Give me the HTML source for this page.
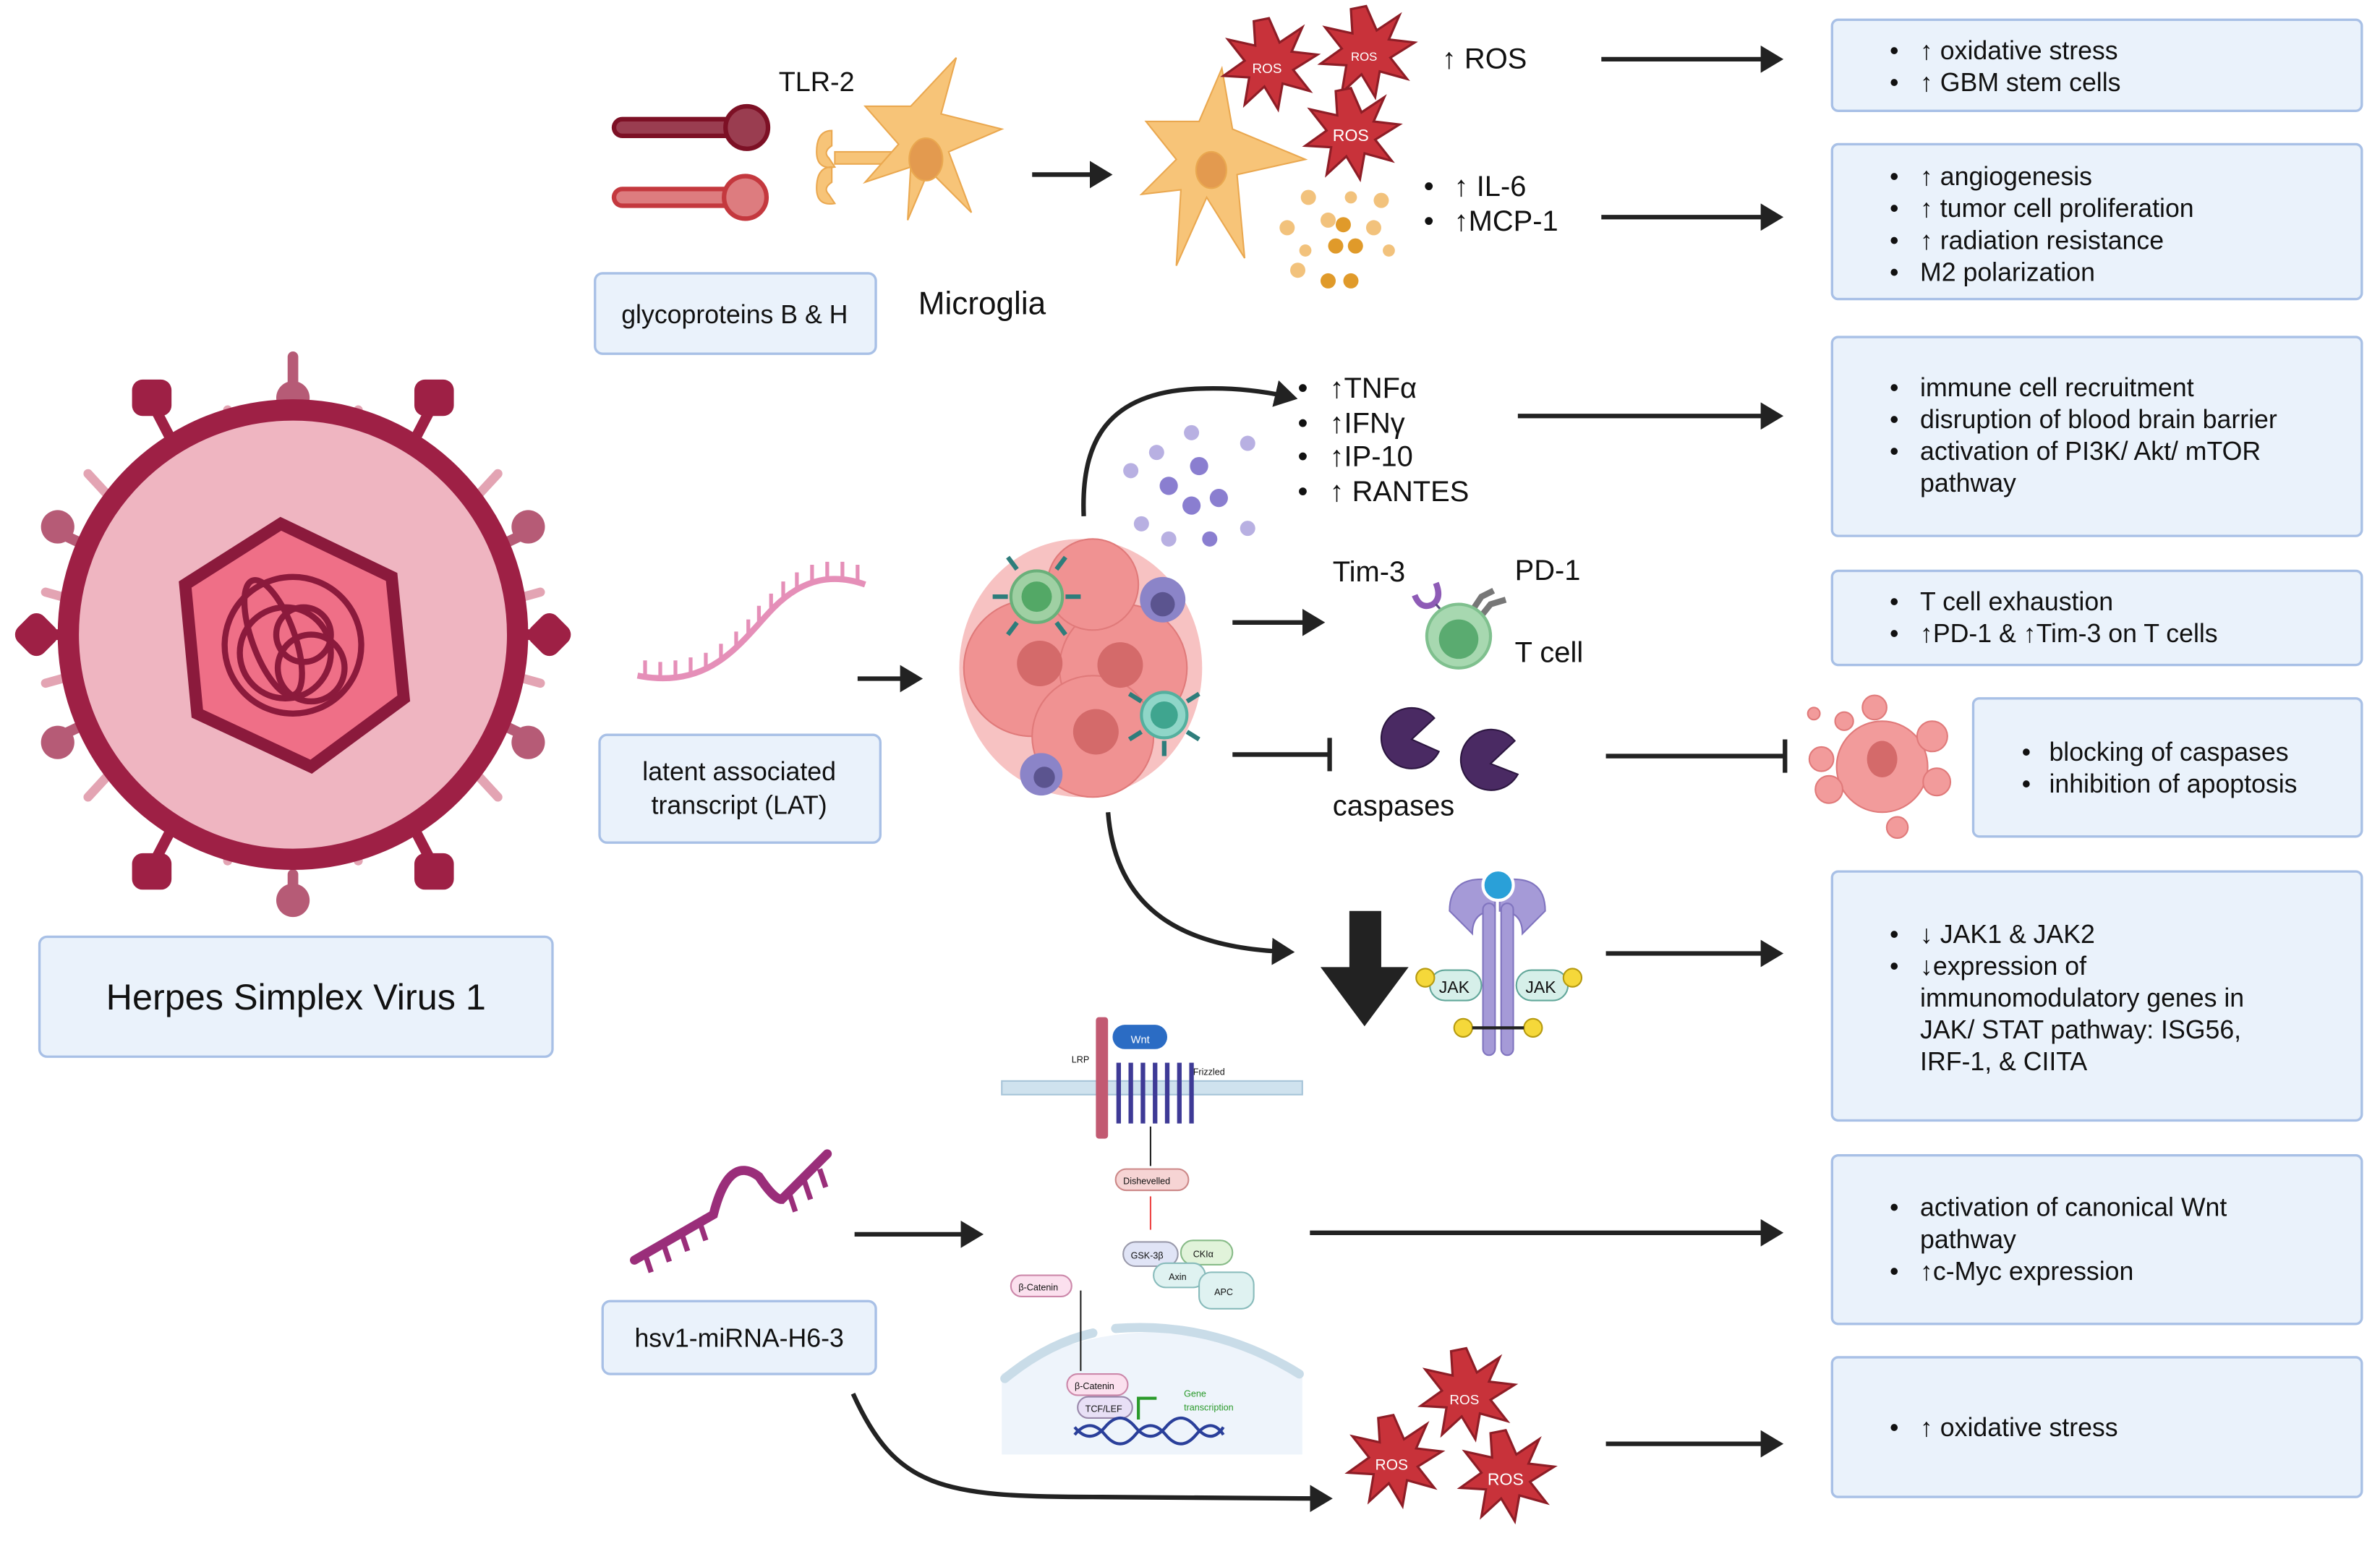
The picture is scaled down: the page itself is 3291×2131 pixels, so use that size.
<!DOCTYPE html>
<html><head><meta charset="utf-8"><style>
html,body{margin:0;padding:0;background:#fff;}
svg{display:block;}
text{font-family:"Liberation Sans",sans-serif;fill:#111;}
.bx{fill:#eaf2fb;stroke:#a8c0e6;stroke-width:1.6;}
.t{font-size:17px;}
.ar{stroke:#222;stroke-width:3;fill:none;}
</style></head><body>
<svg width="3291" height="2131" viewBox="0 0 1568 1015" preserveAspectRatio="none" xmlns="http://www.w3.org/2000/svg">
<defs>
<marker id="ah" markerWidth="6" markerHeight="6" refX="4" refY="3" orient="auto" markerUnits="strokeWidth"><path d="M0,0 L5,3 L0,6 Z" fill="#222"/></marker>
<g id="ros"><polygon points="0,-30 7,-14 22,-24 15,-8 32,-6 16,4 27,18 9,13 6,30 -3,15 -16,27 -13,9 -30,8 -16,-2 -27,-16 -9,-12 -10,-28 " fill="#c8323a" stroke="#8e1d26" stroke-width="1.5"/></g>
</defs>

<!-- Virus -->
<g>
 <g stroke="#b65b76" stroke-width="7" stroke-linecap="round">
  <line x1="193" y1="260" x2="193" y2="235"/><line x1="193" y1="576" x2="193" y2="600"/>
  <line x1="37" y1="350" x2="58" y2="360"/><line x1="349" y1="350" x2="328" y2="360"/>
  <line x1="37" y1="486" x2="58" y2="476"/><line x1="349" y1="486" x2="328" y2="476"/>
 </g>
 <g fill="#b65b76"><circle cx="193" cy="262" r="11"/><circle cx="193" cy="593" r="11"/><circle cx="38" cy="347" r="11"/><circle cx="348" cy="347" r="11"/><circle cx="38" cy="489" r="11"/><circle cx="348" cy="489" r="11"/></g>
 <g stroke="#e3a4b3" stroke-width="6" stroke-linecap="round">
  <line x1="155" y1="285" x2="150" y2="270"/><line x1="231" y1="285" x2="236" y2="270"/>
  <line x1="155" y1="552" x2="150" y2="567"/><line x1="231" y1="552" x2="236" y2="567"/>
  <line x1="70" y1="325" x2="58" y2="312"/><line x1="316" y1="325" x2="328" y2="312"/>
  <line x1="70" y1="512" x2="58" y2="525"/><line x1="316" y1="512" x2="328" y2="525"/>
  <line x1="48" y1="395" x2="30" y2="390"/><line x1="338" y1="395" x2="356" y2="390"/>
  <line x1="48" y1="445" x2="30" y2="450"/><line x1="338" y1="445" x2="356" y2="450"/>
 </g>
 <g stroke="#9e2045" stroke-width="7">
  <line x1="113" y1="290" x2="100" y2="265"/><line x1="273" y1="290" x2="286" y2="265"/>
  <line x1="113" y1="546" x2="100" y2="571"/><line x1="273" y1="546" x2="286" y2="571"/>
  <line x1="40" y1="418" x2="22" y2="418"/><line x1="346" y1="418" x2="364" y2="418"/>
 </g>
 <g fill="#9e2045"><rect x="87" y="250" width="26" height="24" rx="7"/><rect x="273" y="250" width="26" height="24" rx="7"/><rect x="87" y="562" width="26" height="24" rx="7"/><rect x="273" y="562" width="26" height="24" rx="7"/><rect x="12" y="406" width="24" height="24" rx="7" transform="rotate(45 24 418)"/><rect x="350" y="406" width="24" height="24" rx="7" transform="rotate(45 362 418)"/></g>
 <circle cx="193" cy="418" r="148" fill="#efb5c1" stroke="#9e2045" stroke-width="14"/>
 <polygon points="185,345 258,380 266,460 205,505 130,470 122,385" fill="#ef6f87" stroke="#8b1a3c" stroke-width="8"/>
 <g fill="none" stroke="#8b1a3c" stroke-width="4">
  <circle cx="193" cy="425" r="45"/><circle cx="188" cy="430" r="30"/><circle cx="200" cy="418" r="18"/><ellipse cx="180" cy="420" rx="14" ry="40" transform="rotate(-20 180 420)"/><circle cx="205" cy="440" r="22"/>
 </g>
</g>
<rect class="bx" x="26" y="617" width="338" height="79" rx="5"/>
<text x="195" y="665" text-anchor="middle" style="font-size:24px">Herpes Simplex Virus 1</text>

<!-- Glycoproteins -->
<g stroke-linecap="round">
 <line x1="410" y1="84" x2="478" y2="84" stroke="#7d1025" stroke-width="14"/><line x1="410" y1="84" x2="478" y2="84" stroke="#9a3d50" stroke-width="8"/>
 <circle cx="492" cy="84" r="14" fill="#9a3d50" stroke="#7d1025" stroke-width="3"/>
 <line x1="410" y1="130" x2="478" y2="130" stroke="#c4383e" stroke-width="14"/><line x1="410" y1="130" x2="478" y2="130" stroke="#dd7c7f" stroke-width="8"/>
 <circle cx="491" cy="130" r="14" fill="#dd7c7f" stroke="#c4383e" stroke-width="3"/>
</g>
<text x="513" y="60" style="font-size:18px">TLR-2</text>
<g fill="#f7c478" stroke="#eaa850" stroke-width="1">
 <path d="M548,86 q-10,0 -10,14 q0,12 12,10 l-4,-6 q-4,-4 2,-8z M548,110 q-10,0 -10,14 q0,12 12,10 l-4,-6 q-4,-4 2,-8z"/>
 <rect x="550" y="100" width="45" height="8"/>
 <path d="M600,70 L630,38 L620,75 L660,85 L625,100 L640,140 L612,112 L598,145 L600,110 L570,120 L592,95 L570,70 Z"/>
 <ellipse cx="610" cy="105" rx="11" ry="14" fill="#e39a4f"/>
</g>
<rect class="bx" x="392" y="180" width="185" height="53" rx="5"/>
<text x="484" y="213" text-anchor="middle" class="t">glycoproteins B &amp; H</text>
<text x="605" y="207" style="font-size:21px">Microglia</text>
<line class="ar" x1="680" y1="115" x2="730" y2="115" marker-end="url(#ah)"/>
<g fill="#f7c478" stroke="#eaa850" stroke-width="1">
 <path d="M790,80 L805,45 L812,85 L860,105 L815,115 L820,170 L795,130 L775,175 L778,125 L752,128 L775,105 L755,80 Z"/>
 <ellipse cx="798" cy="112" rx="10" ry="12" fill="#e39a4f"/>
</g>
<use href="#ros" x="836" y="42"/><use href="#ros" x="900" y="34"/><use href="#ros" x="890" y="88"/>
<text x="825" y="48" style="fill:#fff;font-size:9px">ROS</text><text x="890" y="40" style="fill:#fff;font-size:8px">ROS</text><text x="878" y="93" style="fill:#fff;font-size:11px">ROS</text>
<g fill="#f2c27c"><circle cx="848" cy="150" r="5"/><circle cx="862" cy="130" r="5"/><circle cx="875" cy="145" r="5"/><circle cx="890" cy="130" r="4"/><circle cx="910" cy="132" r="5"/><circle cx="855" cy="178" r="5"/><circle cx="905" cy="150" r="5"/><circle cx="915" cy="165" r="4"/><circle cx="860" cy="165" r="4"/></g>
<g fill="#e09a2a"><circle cx="880" cy="162" r="5"/><circle cx="893" cy="162" r="5"/><circle cx="875" cy="185" r="5"/><circle cx="890" cy="185" r="5"/><circle cx="885" cy="148" r="5"/></g>
<g style="font-size:19px">
<text x="950" y="45">↑ ROS</text>
<text x="938" y="129">•</text><text x="958" y="129">↑ IL-6</text>
<text x="938" y="152">•</text><text x="958" y="152">↑MCP-1</text>
</g>
<line class="ar" x1="1055" y1="39" x2="1172" y2="39" marker-end="url(#ah)"/>
<line class="ar" x1="1055" y1="143" x2="1172" y2="143" marker-end="url(#ah)"/>

<!-- LAT -->
<path d="M420,445 C470,455 490,420 510,400 C530,380 550,378 570,385" fill="none" stroke="#e58fb8" stroke-width="4"/>
<g stroke="#e58fb8" stroke-width="2.5"><path d="M425,447v-12 M435,448v-12 M445,447v-12 M455,445v-12 M465,442v-12 M475,436v-12 M485,428v-12 M493,420v-12 M500,411v-12 M508,403v-12 M516,395v-12 M525,389v-12 M535,384v-12 M545,382v-12 M555,382v-12 M565,384v-12"/></g>
<rect class="bx" x="395" y="484" width="185" height="71" rx="5"/>
<text x="487" y="514" text-anchor="middle" class="t">latent associated</text>
<text x="487" y="536" text-anchor="middle" class="t">transcript (LAT)</text>
<line class="ar" x1="565" y1="447" x2="605" y2="447" marker-end="url(#ah)"/>

<!-- tumor -->
<g>
 <ellipse cx="712" cy="440" rx="80" ry="85" fill="#f7c2c2"/>
 <circle cx="680" cy="440" r="45" fill="#f09292" stroke="#e07a7a"/>
 <circle cx="740" cy="440" r="42" fill="#f09292" stroke="#e07a7a"/>
 <circle cx="720" cy="485" r="40" fill="#f09292" stroke="#e07a7a"/>
 <circle cx="720" cy="385" r="30" fill="#f09292" stroke="#e07a7a"/>
 <g fill="#d46a6a"><circle cx="685" cy="437" r="15"/><circle cx="738" cy="438" r="15"/><circle cx="722" cy="482" r="15"/></g>
 <circle cx="683" cy="393" r="17" fill="#9fd0a3" stroke="#6ab07a" stroke-width="2"/><circle cx="683" cy="393" r="10" fill="#53a866"/>
 <circle cx="767" cy="471" r="15" fill="#8fd6c8" stroke="#54b09f" stroke-width="2"/><circle cx="767" cy="471" r="9" fill="#3fa58f"/>
 <circle cx="766" cy="395" r="15" fill="#8b84c8"/><circle cx="766" cy="398" r="8" fill="#5b548f"/>
 <circle cx="686" cy="510" r="14" fill="#8b84c8"/><circle cx="688" cy="512" r="7" fill="#5b548f"/>
 <g stroke="#2e7d7b" stroke-width="3"><path d="M670,375l-6,-8 M696,375l6,-8 M664,393h-10 M702,393h10 M670,410l-6,8 M696,410l6,8 M752,462l-8,-5 M782,462l8,-5 M752,482l-8,5 M782,482l8,5 M767,488v10"/></g>
</g>
<path class="ar" d="M714,340 C712,290 730,258 790,256 C815,255 835,258 852,262" marker-end="url(#ah)"/>
<g fill="#b8b0e2"><circle cx="745" cy="310" r="5"/><circle cx="762" cy="298" r="5"/><circle cx="785" cy="285" r="5"/><circle cx="822" cy="292" r="5"/><circle cx="752" cy="345" r="5"/><circle cx="822" cy="348" r="5"/><circle cx="770" cy="355" r="5"/></g>
<g fill="#8a7ed0"><circle cx="770" cy="320" r="6"/><circle cx="785" cy="333" r="6"/><circle cx="803" cy="328" r="6"/><circle cx="790" cy="307" r="6"/><circle cx="797" cy="355" r="5"/></g>
<g style="font-size:19px">
<text x="855" y="262">•</text><text x="876" y="262">↑TNFα</text>
<text x="855" y="285">•</text><text x="876" y="285">↑IFNγ</text>
<text x="855" y="307">•</text><text x="876" y="307">↑IP-10</text>
<text x="855" y="330">•</text><text x="876" y="330">↑ RANTES</text>
</g>
<line class="ar" x1="1000" y1="274" x2="1172" y2="274" marker-end="url(#ah)"/>

<!-- T cell -->
<line class="ar" x1="812" y1="410" x2="870" y2="410" marker-end="url(#ah)"/>
<text x="878" y="383" style="font-size:19px">Tim-3</text><text x="998" y="382" style="font-size:19px">PD-1</text><text x="998" y="436" style="font-size:19px">T cell</text>
<path d="M932,392 q4,10 12,6 q6,-4 2,-14" fill="none" stroke="#8e5bb6" stroke-width="4"/>
<line x1="946" y1="398" x2="955" y2="408" stroke="#5a4a80" stroke-width="1.5"/>
<g stroke="#777" stroke-width="4" fill="none"><path d="M968,405 l8,-12 l8,-4 M974,408 l8,-10 l10,-3"/></g>
<circle cx="961" cy="419" r="21" fill="#a7d8b0" stroke="#7fc08e" stroke-width="2"/><circle cx="961" cy="421" r="13" fill="#5aab70"/>

<!-- caspases -->
<line class="ar" x1="812" y1="497" x2="876" y2="497"/><line x1="876" y1="486" x2="876" y2="508" stroke="#222" stroke-width="3"/>
<path d="M945,473 A20,20 0 1,0 948,495 L930,487 Z" fill="#4a2a63" stroke="#2c1640" stroke-width="1"/>
<path d="M998,488 A20,20 0 1,0 1000,510 L982,503 Z" fill="#4a2a63" stroke="#2c1640" stroke-width="1"/>
<text x="878" y="537" style="font-size:19px">caspases</text>
<line class="ar" x1="1058" y1="498" x2="1176" y2="498"/><line x1="1176" y1="487" x2="1176" y2="509" stroke="#222" stroke-width="3"/>
<g fill="#f29b9b" stroke="#e07a7a"><ellipse cx="1240" cy="505" rx="30" ry="30"/><circle cx="1200" cy="500" r="8"/><circle cx="1205" cy="520" r="9"/><circle cx="1273" cy="485" r="10"/><circle cx="1276" cy="515" r="9"/><circle cx="1235" cy="466" r="8"/><circle cx="1250" cy="545" r="7"/><circle cx="1215" cy="475" r="6"/><circle cx="1195" cy="470" r="4"/></g>
<ellipse cx="1240" cy="500" rx="10" ry="12" fill="#d46a6a"/>

<!-- JAK -->
<path class="ar" d="M730,535 C735,600 780,625 850,627" marker-end="url(#ah)"/>
<polygon points="889,600 910,600 910,637 928,637 899,676 870,637 889,637" fill="#222"/>
<g>
 <path d="M955,600 q0,-25 30,-20 l0,20 q-15,0 -15,15 z M1018,600 q0,-25 -30,-20 l0,20 q15,0 15,15 z" fill="#a59ad7" stroke="#8074bf"/>
 <rect x="977" y="595" width="8" height="100" rx="4" fill="#a59ad7" stroke="#8074bf"/><rect x="989" y="595" width="8" height="100" rx="4" fill="#a59ad7" stroke="#8074bf"/>
 <circle cx="987" cy="583" r="10" fill="#2aa0d8" stroke="#fff" stroke-width="2"/>
 <rect x="942" y="639" width="34" height="20" rx="10" fill="#d6efe9" stroke="#62a79a"/><rect x="999" y="639" width="34" height="20" rx="10" fill="#d6efe9" stroke="#62a79a"/>
 <text x="948" y="654" style="font-size:11px">JAK</text><text x="1005" y="654" style="font-size:11px">JAK</text>
 <g fill="#f5d83a" stroke="#b69a10"><circle cx="939" cy="644" r="6"/><circle cx="1036" cy="644" r="6"/><circle cx="964" cy="677" r="6"/><circle cx="1010" cy="677" r="6"/></g>
 <line x1="970" y1="677" x2="1004" y2="677" stroke="#222" stroke-width="2"/>
</g>
<line class="ar" x1="1058" y1="628" x2="1172" y2="628" marker-end="url(#ah)"/>

<!-- Wnt -->
<g>
 <rect x="660" y="712" width="198" height="9" fill="#cfe2ee" stroke="#a6c4d8"/>
 <rect x="722" y="670" width="8" height="80" rx="2" fill="#c25a72"/>
 <rect x="733" y="675" width="36" height="16" rx="8" fill="#2b6cc4"/><text x="745" y="687" style="font-size:7px;fill:#fff">Wnt</text>
 <text x="706" y="700" style="font-size:6px">LRP</text><text x="786" y="708" style="font-size:6px">Frizzled</text>
 <g fill="none" stroke="#3e3a96" stroke-width="3"><path d="M737,700 v40 M745,700 v40 M753,700 v40 M761,700 v40 M769,700 v40 M777,700 v40 M785,700 v40"/></g>
 <line x1="758" y1="742" x2="758" y2="768" stroke="#222"/>
 <rect x="735" y="770" width="48" height="14" rx="7" fill="#f6d4d4" stroke="#c88"/><text x="740" y="780" style="font-size:6px">Dishevelled</text>
 <line x1="758" y1="788" x2="758" y2="810" stroke="#e44"/>
 <rect x="740" y="818" width="36" height="16" rx="8" fill="#e0e4f6" stroke="#99a"/><text x="745" y="829" style="font-size:6px">GSK-3β</text>
 <rect x="778" y="817" width="34" height="16" rx="8" fill="#e1f3da" stroke="#8b8"/><text x="786" y="828" style="font-size:6px">CKIα</text>
 <rect x="760" y="832" width="34" height="16" rx="8" fill="#dff2f1" stroke="#8bb"/><text x="770" y="843" style="font-size:6px">Axin</text>
 <rect x="790" y="838" width="36" height="24" rx="8" fill="#dff2f1" stroke="#8bb"/><text x="800" y="853" style="font-size:6px">APC</text>
 <rect x="666" y="840" width="40" height="14" rx="7" fill="#fbe0ee" stroke="#c8a"/><text x="671" y="850" style="font-size:6px">β-Catenin</text>
 <path d="M660,905 Q760,850 858,905 V958 H660 Z" fill="#eef4fb"/>
 <path d="M662,908 Q690,885 720,878 M735,875 Q800,870 856,905" fill="none" stroke="#c9dce8" stroke-width="6" stroke-linecap="round"/>
 <line x1="712" y1="850" x2="712" y2="903" stroke="#222"/>
 <rect x="703" y="905" width="40" height="14" rx="7" fill="#fbe0ee" stroke="#c8a"/><text x="708" y="915" style="font-size:6px">β-Catenin</text>
 <rect x="710" y="920" width="36" height="14" rx="7" fill="#e8e0f6" stroke="#98a"/><text x="715" y="930" style="font-size:6px">TCF/LEF</text>
 <path d="M750,935 v-14 h12" fill="none" stroke="#2a9a2a" stroke-width="2"/><text x="780" y="920" style="font-size:6px;fill:#2a9a2a">Gene</text><text x="780" y="929" style="font-size:6px;fill:#2a9a2a">transcription</text>
 <path d="M708,940 q10,12 20,0 q10,-12 20,0 q10,12 20,0 q10,-12 20,0 q10,12 18,0 M708,945 q10,-12 20,0 q10,12 20,0 q10,-12 20,0 q10,12 20,0 q10,-12 18,0" fill="none" stroke="#2a3f9a" stroke-width="2"/>
</g>
<line class="ar" x1="863" y1="812" x2="1172" y2="812" marker-end="url(#ah)"/>

<!-- miRNA -->
<path d="M418,830 L470,800 Q480,760 500,775 Q510,790 515,790 L545,760" fill="none" stroke="#9a2e7a" stroke-width="6" stroke-linecap="round"/>
<g stroke="#9a2e7a" stroke-width="3.5"><path d="M425,826l4,12 M437,819l4,12 M449,812l4,12 M461,805l4,12 M520,786l4,12 M530,778l4,12 M540,770l4,12"/></g>
<rect class="bx" x="397" y="857" width="180" height="48" rx="5"/>
<text x="487" y="887" text-anchor="middle" class="t">hsv1-miRNA-H6-3</text>
<line class="ar" x1="563" y1="813" x2="645" y2="813" marker-end="url(#ah)"/>
<path class="ar" d="M562,918 C590,980 620,986 720,986 C790,986 830,987 875,987" marker-end="url(#ah)"/>
<use href="#ros" x="966" y="918"/><use href="#ros" x="918" y="962"/><use href="#ros" x="992" y="972"/>
<text x="955" y="925" style="fill:#fff;font-size:9px">ROS</text><text x="906" y="968" style="fill:#fff;font-size:10px">ROS</text><text x="980" y="978" style="fill:#fff;font-size:11px">ROS</text>
<line class="ar" x1="1058" y1="951" x2="1172" y2="951" marker-end="url(#ah)"/>

<!-- right boxes -->
<g class="t">
<rect class="bx" x="1207" y="13" width="349" height="60" rx="4"/>
<text x="1245" y="39">•</text><text x="1265" y="39">↑ oxidative stress</text>
<text x="1245" y="60">•</text><text x="1265" y="60">↑ GBM stem cells</text>
<rect class="bx" x="1207" y="95" width="349" height="102" rx="4"/>
<text x="1245" y="122">•</text><text x="1265" y="122">↑ angiogenesis</text>
<text x="1245" y="143">•</text><text x="1265" y="143">↑ tumor cell proliferation</text>
<text x="1245" y="164">•</text><text x="1265" y="164">↑ radiation resistance</text>
<text x="1245" y="185">•</text><text x="1265" y="185">M2 polarization</text>
<rect class="bx" x="1207" y="222" width="349" height="131" rx="4"/>
<text x="1245" y="261">•</text><text x="1265" y="261">immune cell recruitment</text>
<text x="1245" y="282">•</text><text x="1265" y="282">disruption of blood brain barrier</text>
<text x="1245" y="303">•</text><text x="1265" y="303">activation of PI3K/ Akt/ mTOR</text>
<text x="1265" y="324">pathway</text>
<rect class="bx" x="1207" y="376" width="349" height="62" rx="4"/>
<text x="1245" y="402">•</text><text x="1265" y="402">T cell exhaustion</text>
<text x="1245" y="423">•</text><text x="1265" y="423">↑PD-1 &amp; ↑Tim-3 on T cells</text>
<rect class="bx" x="1300" y="460" width="256" height="91" rx="4"/>
<text x="1332" y="501">•</text><text x="1350" y="501">blocking of caspases</text>
<text x="1332" y="522">•</text><text x="1350" y="522">inhibition of apoptosis</text>
<rect class="bx" x="1207" y="574" width="349" height="164" rx="4"/>
<text x="1245" y="621">•</text><text x="1265" y="621">↓ JAK1 &amp; JAK2</text>
<text x="1245" y="642">•</text><text x="1265" y="642">↓expression of</text>
<text x="1265" y="663">immunomodulatory genes in</text>
<text x="1265" y="684">JAK/ STAT pathway: ISG56,</text>
<text x="1265" y="705">IRF-1, &amp; CIITA</text>
<rect class="bx" x="1207" y="761" width="349" height="111" rx="4"/>
<text x="1245" y="801">•</text><text x="1265" y="801">activation of canonical Wnt</text>
<text x="1265" y="822">pathway</text>
<text x="1245" y="843">•</text><text x="1265" y="843">↑c-Myc expression</text>
<rect class="bx" x="1207" y="894" width="349" height="92" rx="4"/>
<text x="1245" y="946">•</text><text x="1265" y="946">↑ oxidative stress</text>
</g>
</svg>
</body></html>
